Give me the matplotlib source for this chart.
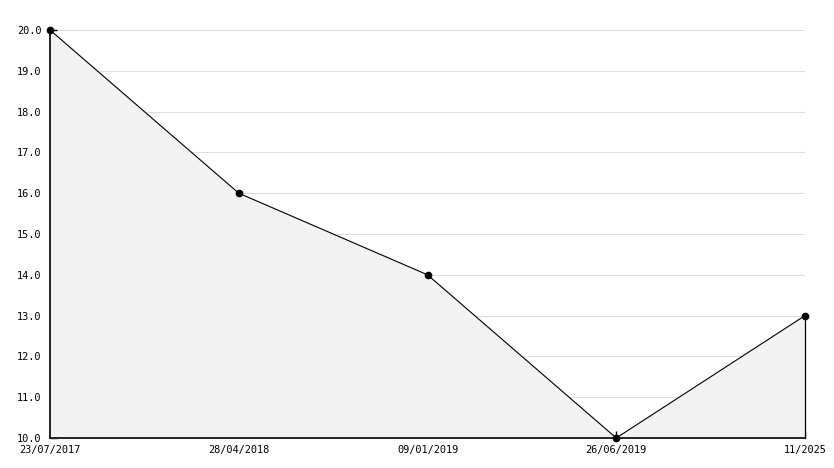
import matplotlib
matplotlib.use("Agg")
import matplotlib.pyplot as plt
from matplotlib.ticker import MultipleLocator, FormatStrFormatter

categories = ["23/07/2017", "28/04/2018", "09/01/2019", "26/06/2019", "11/2025"]
values = [20.0, 16.0, 14.0, 10.0, 13.0]

W, H = 834, 468
fig = plt.figure(figsize=(W / 100, H / 100), dpi=100)
ax = fig.add_axes([50 / W, 30 / H, 755 / W, 408 / H])

x = list(range(len(categories)))
ax.fill_between(x, values, 10.0, color="#f2f2f2", zorder=1)
ax.plot([x[-1], x[-1]], [10.0, values[-1]], color="black", lw=0.9, zorder=2,
        clip_on=False)
ax.plot(x, values, color="black", lw=0.8, marker="o", markersize=4.5, zorder=5,
        clip_on=False)

ax.set_xlim(0, len(categories) - 1)
ax.set_ylim(10, 20)
ax.set_xticks(x)
ax.set_xticklabels(categories)
ax.yaxis.set_major_locator(MultipleLocator(1))
ax.yaxis.set_minor_locator(MultipleLocator(0.5))
ax.yaxis.set_major_formatter(FormatStrFormatter("%.1f"))

ax.grid(axis="y", color="#dddddd", lw=0.8, zorder=0)
ax.set_axisbelow(True)
for s in ["top", "right"]:
    ax.spines[s].set_visible(False)
for s in ["left", "bottom"]:
    ax.spines[s].set_linewidth(1.2)
    ax.spines[s].set_zorder(4)

ax.tick_params(axis="y", which="major", direction="in", length=5, width=1, pad=6,
               labelsize=7.4, labelfontfamily="DejaVu Sans Mono")
ax.tick_params(axis="y", which="minor", direction="in", length=5, width=1)
ax.tick_params(axis="x", which="major", direction="in", length=5, width=1, pad=5,
               labelsize=7.4, labelfontfamily="DejaVu Sans Mono")

fig.savefig("out.png", dpi=100)
